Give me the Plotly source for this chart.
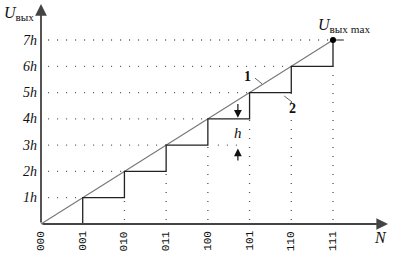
import plotly.graph_objects as go

# ---- data ----
codes = ["000", "001", "010", "011", "100", "101", "110", "111"]
levels = [0, 1, 2, 3, 4, 5, 6, 7]
level_labels = ["1h", "2h", "3h", "4h", "5h", "6h", "7h"]

SERIF = "Liberation Serif"
MONO = "Courier New"

fig = go.Figure()

# dotted horizontal guides (from y axis to the ideal point k)
hx, hy = [], []
for k in levels[1:]:
    hx += [0.17, k, None]
    hy += [k, k, None]
# extension line for h dimension
hx += [4.24, 4.82, None]
hy += [3, 3, None]
fig.add_trace(go.Scatter(x=hx, y=hy, mode="lines", cliponaxis=False,
                         line=dict(color="#555", width=1.3, dash="1px,8px"),
                         hoverinfo="skip", showlegend=False))

# dotted vertical guides (from axis up to lower step corner)
vx, vy = [], []
for k in levels[2:]:
    vx += [k, k, None]
    vy += [0.15, k - 1, None]
fig.add_trace(go.Scatter(x=vx, y=vy, mode="lines", cliponaxis=False,
                         line=dict(color="#555", width=1.3, dash="1px,8px"),
                         hoverinfo="skip", showlegend=False))

# ideal characteristic (1)
fig.add_trace(go.Scatter(x=[levels[0], levels[-1]], y=[levels[0], levels[-1]],
                         mode="lines", cliponaxis=False,
                         line=dict(color="#777", width=1.1),
                         hoverinfo="skip", showlegend=False))

# real staircase (2)
sx = levels[1:] + [levels[-1]]
sy = levels[:-1] + [levels[-1]]
fig.add_trace(go.Scatter(x=sx, y=sy, mode="lines", line_shape="vh", cliponaxis=False,
                         line=dict(color="#222", width=1.3),
                         hoverinfo="skip", showlegend=False))

# Umax leader and point
fig.add_trace(go.Scatter(x=[levels[-1], 7.26], y=[levels[-1], levels[-1]], mode="lines",
                         cliponaxis=False, line=dict(color="#444", width=1.2),
                         hoverinfo="skip", showlegend=False))
fig.add_trace(go.Scatter(x=[levels[-1]], y=[levels[-1]], mode="markers", cliponaxis=False,
                         marker=dict(color="#000", size=6),
                         hoverinfo="skip", showlegend=False))

# leaders for labels 1 and 2
fig.add_trace(go.Scatter(x=[5.13, 5.30, None, 5.83, 6.02], y=[5.55, 5.33, None, 4.87, 4.64],
                         mode="lines", cliponaxis=False,
                         line=dict(color="#666", width=1),
                         hoverinfo="skip", showlegend=False))

ann = []
# axes as arrows
ann.append(dict(x=8.32, y=0, ax=0, ay=0, xref="x", yref="y", axref="x", ayref="y",
                text="", showarrow=True, arrowhead=2, arrowsize=1.3, arrowwidth=1.8,
                arrowcolor="#444", standoff=0, startstandoff=0))
ann.append(dict(x=0, y=8.37, ax=0, ay=0, xref="x", yref="y", axref="x", ayref="y",
                text="", showarrow=True, arrowhead=2, arrowsize=1.3, arrowwidth=1.8,
                arrowcolor="#444", standoff=0, startstandoff=0))

# h dimension arrows
ann.append(dict(x=4.72, y=4.04, ax=4.72, ay=4.62, xref="x", yref="y", axref="x", ayref="y",
                text="", showarrow=True, arrowhead=2, arrowsize=1.3, arrowwidth=1.2,
                arrowcolor="#111", standoff=0))
ann.append(dict(x=4.72, y=2.87, ax=4.72, ay=2.36, xref="x", yref="y", axref="x", ayref="y",
                text="", showarrow=True, arrowhead=2, arrowsize=1.3, arrowwidth=1.2,
                arrowcolor="#111", standoff=0))

# x tick labels (codes), rotated
for k, c in zip(levels, codes):
    ann.append(dict(x=k, y=-0.19, xref="x", yref="y", text=c, showarrow=False,
                    textangle=-90, yanchor="top", xanchor="center",
                    font=dict(family=MONO, size=11, color="#111")))

# y tick labels
for k, lab in zip(levels[1:], level_labels):
    ann.append(dict(x=-0.06, y=k, xref="x", yref="y", text="<i>" + lab + "</i>",
                    showarrow=False, xanchor="right", yanchor="middle",
                    font=dict(family=SERIF, size=14, color="#111")))

# texts
ann.append(dict(x=-0.52, y=8.0, xref="x", yref="y", text="<i>U</i><sub>вых</sub>",
                showarrow=False, font=dict(family=SERIF, size=16, color="#111")))
ann.append(dict(x=7.26, y=7.55, xref="x", yref="y", text="<i>U</i><sub>вых max</sub>",
                showarrow=False, font=dict(family=SERIF, size=16, color="#111")))
ann.append(dict(x=8.13, y=-0.53, xref="x", yref="y", text="<i>N</i>",
                showarrow=False, font=dict(family=SERIF, size=16, color="#111")))
ann.append(dict(x=4.72, y=3.46, xref="x", yref="y", text="<i>h</i>",
                showarrow=False, font=dict(family=SERIF, size=15, color="#111")))
ann.append(dict(x=4.96, y=5.63, xref="x", yref="y", text="<b>1</b>",
                showarrow=False, font=dict(family=SERIF, size=14, color="#111")))
ann.append(dict(x=6.04, y=4.41, xref="x", yref="y", text="<b>2</b>",
                showarrow=False, font=dict(family=SERIF, size=14, color="#111")))

fig.update_layout(
    width=402, height=257,
    margin=dict(l=0, r=0, t=0, b=0),
    paper_bgcolor="white", plot_bgcolor="white",
    xaxis=dict(range=[-41 / 41.714, 361 / 41.714], visible=False, fixedrange=True),
    yaxis=dict(range=[-33 / 26.286, 224 / 26.286], visible=False, fixedrange=True),
    annotations=ann,
)

fig.write_html("out.html")
